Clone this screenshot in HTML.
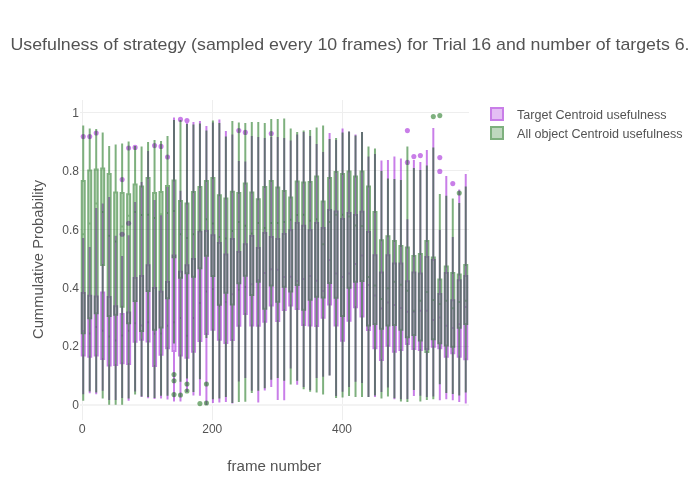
<!DOCTYPE html><html><head><meta charset="utf-8"><style>html,body{margin:0;padding:0;background:#fff;}body{width:700px;height:500px;position:relative;overflow:hidden;font-family:"Liberation Sans",sans-serif;}</style></head><body><svg width="700" height="500" viewBox="0 0 700 500" style="position:absolute;left:0;top:0"><rect width="700" height="500" fill="#fff"/><rect x="82" y="100" width="1" height="320" fill="#eeeeee"/><rect x="212" y="100" width="1" height="320" fill="#eeeeee"/><rect x="342" y="100" width="1" height="320" fill="#eeeeee"/><rect x="80" y="112" width="389" height="1" fill="#eeeeee"/><rect x="80" y="170" width="389" height="1" fill="#eeeeee"/><rect x="80" y="229" width="389" height="1" fill="#eeeeee"/><rect x="80" y="287" width="389" height="1" fill="#eeeeee"/><rect x="80" y="346" width="389" height="1" fill="#eeeeee"/><rect x="80" y="404" width="389" height="2" fill="#f3f3f3"/><clipPath id="c"><rect x="80" y="100" width="389" height="320"/></clipPath><g clip-path="url(#c)"><g opacity="0.5"><path d="M83.24,293.00V238.00M83.24,355.40V394.30M81.74,355.40H84.74V293.00H81.74Z M81.74,331.00H84.74" fill="rgba(148,0,211,0.5)" stroke="rgb(148,0,211)" stroke-width="2"/><path d="M89.72,295.70V247.00M89.72,356.70V393.30M88.22,356.70H91.22V295.70H88.22Z M88.22,333.60H91.22" fill="rgba(148,0,211,0.5)" stroke="rgb(148,0,211)" stroke-width="2"/><path d="M96.21,296.40V208.00M96.21,355.40V394.30M94.71,355.40H97.71V296.40H94.71Z M94.71,327.00H97.71" fill="rgba(148,0,211,0.5)" stroke="rgb(148,0,211)" stroke-width="2"/><path d="M102.69,292.40V203.60M102.69,359.00V390.70M101.19,359.00H104.19V292.40H101.19Z M101.19,330.70H104.19" fill="rgba(148,0,211,0.5)" stroke="rgb(148,0,211)" stroke-width="2"/><path d="M109.17,297.00V197.00M109.17,365.40V400.00M107.67,365.40H110.67V297.00H107.67Z M107.67,336.40H110.67" fill="rgba(148,0,211,0.5)" stroke="rgb(148,0,211)" stroke-width="2"/><path d="M115.66,306.30V235.70M115.66,365.10V400.00M114.16,365.10H117.16V306.30H114.16Z M114.16,340.40H117.16" fill="rgba(148,0,211,0.5)" stroke="rgb(148,0,211)" stroke-width="2"/><path d="M122.14,313.90V256.00M122.14,363.30V397.90M120.64,363.30H123.64V313.90H120.64Z M120.64,335.40H123.64" fill="rgba(148,0,211,0.5)" stroke="rgb(148,0,211)" stroke-width="2"/><path d="M128.62,312.40V235.30M128.62,364.00V400.70M127.12,364.00H130.12V312.40H127.12Z M127.12,330.70H130.12" fill="rgba(148,0,211,0.5)" stroke="rgb(148,0,211)" stroke-width="2"/><path d="M135.10,278.00V202.00M135.10,341.70V391.40M133.60,341.70H136.60V278.00H133.60Z M133.60,323.20H136.60" fill="rgba(148,0,211,0.5)" stroke="rgb(148,0,211)" stroke-width="2"/><path d="M141.59,276.00V182.00M141.59,339.70V397.00M140.09,339.70H143.09V276.00H140.09Z M140.09,325.50H143.09" fill="rgba(148,0,211,0.5)" stroke="rgb(148,0,211)" stroke-width="2"/><path d="M148.07,265.30V151.00M148.07,341.60V398.30M146.57,341.60H149.57V265.30H146.57Z M146.57,322.20H149.57" fill="rgba(148,0,211,0.5)" stroke="rgb(148,0,211)" stroke-width="2"/><path d="M154.55,288.00V200.00M154.55,366.10V399.00M153.05,366.10H156.05V288.00H153.05Z M153.05,333.70H156.05" fill="rgba(148,0,211,0.5)" stroke="rgb(148,0,211)" stroke-width="2"/><path d="M161.04,291.70V215.30M161.04,354.70V398.60M159.54,354.70H162.54V291.70H159.54Z M159.54,333.60H162.54" fill="rgba(148,0,211,0.5)" stroke="rgb(148,0,211)" stroke-width="2"/><path d="M167.52,282.00V187.00M167.52,348.30V399.60M166.02,348.30H169.02V282.00H166.02Z M166.02,325.70H169.02" fill="rgba(148,0,211,0.5)" stroke="rgb(148,0,211)" stroke-width="2"/><path d="M174.00,255.50V117.60M174.00,351.10V401.40M172.50,351.10H175.50V255.50H172.50Z M172.50,322.20H175.50" fill="rgba(148,0,211,0.5)" stroke="rgb(148,0,211)" stroke-width="2"/><path d="M180.48,271.70V190.70M180.48,355.40V401.40M178.98,355.40H181.98V271.70H178.98Z M178.98,318.00H181.98" fill="rgba(148,0,211,0.5)" stroke="rgb(148,0,211)" stroke-width="2"/><path d="M186.97,265.30V122.00M186.97,357.70V392.00M185.47,357.70H188.47V265.30H185.47Z M185.47,335.70H188.47" fill="rgba(148,0,211,0.5)" stroke="rgb(148,0,211)" stroke-width="2"/><path d="M193.45,259.00V122.00M193.45,351.70V395.40M191.95,351.70H194.95V259.00H191.95Z M191.95,318.00H194.95" fill="rgba(148,0,211,0.5)" stroke="rgb(148,0,211)" stroke-width="2"/><path d="M199.93,231.70V121.00M199.93,341.10V395.70M198.43,341.10H201.43V231.70H198.43Z M198.43,303.00H201.43" fill="rgba(148,0,211,0.5)" stroke="rgb(148,0,211)" stroke-width="2"/><path d="M206.42,231.00V126.00M206.42,334.00V405.00M204.92,334.00H207.92V231.00H204.92Z M204.92,291.40H207.92" fill="rgba(148,0,211,0.5)" stroke="rgb(148,0,211)" stroke-width="2"/><path d="M212.90,235.30V122.60M212.90,329.70V403.00M211.40,329.70H214.40V235.30H211.40Z M211.40,289.00H214.40" fill="rgba(148,0,211,0.5)" stroke="rgb(148,0,211)" stroke-width="2"/><path d="M219.38,243.00V119.60M219.38,339.70V402.60M217.88,339.70H220.88V243.00H217.88Z M217.88,306.00H220.88" fill="rgba(148,0,211,0.5)" stroke="rgb(148,0,211)" stroke-width="2"/><path d="M225.87,254.60V131.00M225.87,343.00V402.00M224.37,343.00H227.37V254.60H224.37Z M224.37,302.00H227.37" fill="rgba(148,0,211,0.5)" stroke="rgb(148,0,211)" stroke-width="2"/><path d="M232.35,239.00V134.40M232.35,340.10V403.50M230.85,340.10H233.85V239.00H230.85Z M230.85,294.30H233.85" fill="rgba(148,0,211,0.5)" stroke="rgb(148,0,211)" stroke-width="2"/><path d="M238.83,252.00V161.00M238.83,325.70V381.40M237.33,325.70H240.33V252.00H237.33Z M237.33,289.70H240.33" fill="rgba(148,0,211,0.5)" stroke="rgb(148,0,211)" stroke-width="2"/><path d="M245.31,244.30V161.60M245.31,314.00V378.00M243.81,314.00H246.81V244.30H243.81Z M243.81,287.00H246.81" fill="rgba(148,0,211,0.5)" stroke="rgb(148,0,211)" stroke-width="2"/><path d="M251.80,236.00V136.00M251.80,325.40V390.70M250.30,325.40H253.30V236.00H250.30Z M250.30,284.30H253.30" fill="rgba(148,0,211,0.5)" stroke="rgb(148,0,211)" stroke-width="2"/><path d="M258.28,248.00V137.00M258.28,325.70V402.60M256.78,325.70H259.78V248.00H256.78Z M256.78,280.00H259.78" fill="rgba(148,0,211,0.5)" stroke="rgb(148,0,211)" stroke-width="2"/><path d="M264.76,233.00V138.00M264.76,321.70V390.40M263.26,321.70H266.26V233.00H263.26Z M263.26,273.00H266.26" fill="rgba(148,0,211,0.5)" stroke="rgb(148,0,211)" stroke-width="2"/><path d="M271.25,237.00V137.00M271.25,305.40V387.00M269.75,305.40H272.75V237.00H269.75Z M269.75,269.30H272.75" fill="rgba(148,0,211,0.5)" stroke="rgb(148,0,211)" stroke-width="2"/><path d="M277.73,239.00V137.00M277.73,321.10V400.00M276.23,321.10H279.23V239.00H276.23Z M276.23,269.70H279.23" fill="rgba(148,0,211,0.5)" stroke="rgb(148,0,211)" stroke-width="2"/><path d="M284.21,233.90V138.00M284.21,310.10V400.30M282.71,310.10H285.71V233.90H282.71Z M282.71,277.00H285.71" fill="rgba(148,0,211,0.5)" stroke="rgb(148,0,211)" stroke-width="2"/><path d="M290.70,230.30V140.60M290.70,305.40V368.60M289.20,305.40H292.20V230.30H289.20Z M289.20,276.70H292.20" fill="rgba(148,0,211,0.5)" stroke="rgb(148,0,211)" stroke-width="2"/><path d="M297.18,222.90V134.40M297.18,309.00V384.70M295.68,309.00H298.68V222.90H295.68Z M295.68,281.00H298.68" fill="rgba(148,0,211,0.5)" stroke="rgb(148,0,211)" stroke-width="2"/><path d="M303.66,225.70V132.00M303.66,325.00V386.90M302.16,325.00H305.16V225.70H302.16Z M302.16,279.00H305.16" fill="rgba(148,0,211,0.5)" stroke="rgb(148,0,211)" stroke-width="2"/><path d="M310.14,230.30V136.00M310.14,325.40V390.00M308.64,325.40H311.64V230.30H308.64Z M308.64,276.00H311.64" fill="rgba(148,0,211,0.5)" stroke="rgb(148,0,211)" stroke-width="2"/><path d="M316.63,223.00V144.00M316.63,326.10V377.90M315.13,326.10H318.13V223.00H315.13Z M315.13,280.70H318.13" fill="rgba(148,0,211,0.5)" stroke="rgb(148,0,211)" stroke-width="2"/><path d="M323.11,228.00V152.00M323.11,317.70V376.70M321.61,317.70H324.61V228.00H321.61Z M321.61,291.00H324.61" fill="rgba(148,0,211,0.5)" stroke="rgb(148,0,211)" stroke-width="2"/><path d="M329.59,210.00V133.00M329.59,304.40V375.50M328.09,304.40H331.09V210.00H328.09Z M328.09,260.00H331.09" fill="rgba(148,0,211,0.5)" stroke="rgb(148,0,211)" stroke-width="2"/><path d="M336.08,211.40V140.00M336.08,325.40V396.00M334.58,325.40H337.58V211.40H334.58Z M334.58,273.60H337.58" fill="rgba(148,0,211,0.5)" stroke="rgb(148,0,211)" stroke-width="2"/><path d="M342.56,219.00V128.60M342.56,340.70V391.70M341.06,340.70H344.06V219.00H341.06Z M341.06,277.00H344.06" fill="rgba(148,0,211,0.5)" stroke="rgb(148,0,211)" stroke-width="2"/><path d="M349.04,213.00V131.40M349.04,320.70V387.00M347.54,320.70H350.54V213.00H347.54Z M347.54,273.60H350.54" fill="rgba(148,0,211,0.5)" stroke="rgb(148,0,211)" stroke-width="2"/><path d="M355.53,214.90V134.60M355.53,307.30V381.70M354.03,307.30H357.03V214.90H354.03Z M354.03,263.90H357.03" fill="rgba(148,0,211,0.5)" stroke="rgb(148,0,211)" stroke-width="2"/><path d="M362.01,211.70V132.00M362.01,316.40V382.90M360.51,316.40H363.51V211.70H360.51Z M360.51,255.40H363.51" fill="rgba(148,0,211,0.5)" stroke="rgb(148,0,211)" stroke-width="2"/><path d="M368.49,232.00V156.60M368.49,330.10V396.90M366.99,330.10H369.99V232.00H366.99Z M366.99,285.00H369.99" fill="rgba(148,0,211,0.5)" stroke="rgb(148,0,211)" stroke-width="2"/><path d="M374.97,255.30V154.00M374.97,348.30V397.00M373.47,348.30H376.47V255.30H373.47Z M373.47,295.40H376.47" fill="rgba(148,0,211,0.5)" stroke="rgb(148,0,211)" stroke-width="2"/><path d="M381.46,272.40V160.60M381.46,360.10V392.00M379.96,360.10H382.96V272.40H379.96Z M379.96,308.60H382.96" fill="rgba(148,0,211,0.5)" stroke="rgb(148,0,211)" stroke-width="2"/><path d="M387.94,255.30V160.00M387.94,345.70V387.40M386.44,345.70H389.44V255.30H386.44Z M386.44,302.60H389.44" fill="rgba(148,0,211,0.5)" stroke="rgb(148,0,211)" stroke-width="2"/><path d="M394.42,263.60V156.60M394.42,351.70V399.30M392.92,351.70H395.92V263.60H392.92Z M392.92,305.00H395.92" fill="rgba(148,0,211,0.5)" stroke="rgb(148,0,211)" stroke-width="2"/><path d="M400.91,263.60V158.60M400.91,350.10V399.30M399.41,350.10H402.41V263.60H399.41Z M399.41,307.90H402.41" fill="rgba(148,0,211,0.5)" stroke="rgb(148,0,211)" stroke-width="2"/><path d="M407.39,281.30V219.30M407.39,344.00V399.00M405.89,344.00H408.89V281.30H405.89Z M405.89,311.70H408.89" fill="rgba(148,0,211,0.5)" stroke="rgb(148,0,211)" stroke-width="2"/><path d="M413.87,272.40V160.00M413.87,349.00V396.00M412.37,349.00H415.37V272.40H412.37Z M412.37,312.00H415.37" fill="rgba(148,0,211,0.5)" stroke="rgb(148,0,211)" stroke-width="2"/><path d="M420.36,273.60V162.00M420.36,350.10V395.70M418.86,350.10H421.86V273.60H418.86Z M418.86,310.70H421.86" fill="rgba(148,0,211,0.5)" stroke="rgb(148,0,211)" stroke-width="2"/><path d="M426.84,257.00V150.00M426.84,349.00V397.00M425.34,349.00H428.34V257.00H425.34Z M425.34,310.70H428.34" fill="rgba(148,0,211,0.5)" stroke="rgb(148,0,211)" stroke-width="2"/><path d="M433.32,259.90V128.00M433.32,346.70V396.40M431.82,346.70H434.82V259.90H431.82Z M431.82,320.00H434.82" fill="rgba(148,0,211,0.5)" stroke="rgb(148,0,211)" stroke-width="2"/><path d="M439.81,294.00V230.00M439.81,348.30V400.30M438.31,348.30H441.31V294.00H438.31Z M438.31,317.50H441.31" fill="rgba(148,0,211,0.5)" stroke="rgb(148,0,211)" stroke-width="2"/><path d="M446.29,273.00V176.00M446.29,356.70V399.30M444.79,356.70H447.79V273.00H444.79Z M444.79,325.70H447.79" fill="rgba(148,0,211,0.5)" stroke="rgb(148,0,211)" stroke-width="2"/><path d="M452.77,300.30V237.00M452.77,353.30V400.30M451.27,353.30H454.27V300.30H451.27Z M451.27,328.00H454.27" fill="rgba(148,0,211,0.5)" stroke="rgb(148,0,211)" stroke-width="2"/><path d="M459.25,280.30V189.60M459.25,356.70V402.00M457.75,356.70H460.75V280.30H457.75Z M457.75,324.30H460.75" fill="rgba(148,0,211,0.5)" stroke="rgb(148,0,211)" stroke-width="2"/><path d="M465.74,276.00V174.00M465.74,359.30V403.60M464.24,359.30H467.24V276.00H464.24Z M464.24,306.90H467.24" fill="rgba(148,0,211,0.5)" stroke="rgb(148,0,211)" stroke-width="2"/><circle cx="83.24" cy="136.60" r="2.55" fill="rgb(148,0,211)"/><circle cx="89.72" cy="136.60" r="2.55" fill="rgb(148,0,211)"/><circle cx="96.21" cy="133.00" r="2.55" fill="rgb(148,0,211)"/><circle cx="122.14" cy="179.60" r="2.55" fill="rgb(148,0,211)"/><circle cx="122.14" cy="234.30" r="2.55" fill="rgb(148,0,211)"/><circle cx="128.62" cy="148.00" r="2.55" fill="rgb(148,0,211)"/><circle cx="128.62" cy="223.30" r="2.55" fill="rgb(148,0,211)"/><circle cx="135.10" cy="147.40" r="2.55" fill="rgb(148,0,211)"/><circle cx="154.55" cy="145.60" r="2.55" fill="rgb(148,0,211)"/><circle cx="161.04" cy="146.40" r="2.55" fill="rgb(148,0,211)"/><circle cx="167.52" cy="157.00" r="2.55" fill="rgb(148,0,211)"/><circle cx="180.48" cy="119.40" r="2.55" fill="rgb(148,0,211)"/><circle cx="186.97" cy="120.60" r="2.55" fill="rgb(148,0,211)"/><circle cx="238.83" cy="130.60" r="2.55" fill="rgb(148,0,211)"/><circle cx="245.31" cy="132.40" r="2.55" fill="rgb(148,0,211)"/><circle cx="271.25" cy="133.60" r="2.55" fill="rgb(148,0,211)"/><circle cx="407.39" cy="130.60" r="2.55" fill="rgb(148,0,211)"/><circle cx="407.39" cy="162.40" r="2.55" fill="rgb(148,0,211)"/><circle cx="413.87" cy="156.60" r="2.55" fill="rgb(148,0,211)"/><circle cx="420.36" cy="155.60" r="2.55" fill="rgb(148,0,211)"/><circle cx="439.81" cy="157.60" r="2.55" fill="rgb(148,0,211)"/><circle cx="439.81" cy="171.40" r="2.55" fill="rgb(148,0,211)"/><circle cx="452.77" cy="183.60" r="2.55" fill="rgb(148,0,211)"/></g><g opacity="0.5"><path d="M83.24,181.00V125.60M83.24,333.30V400.70M81.74,333.30H84.74V181.00H81.74Z M81.74,234.30H84.74" fill="rgba(0,100,0,0.5)" stroke="rgb(0,100,0)" stroke-width="2"/><path d="M89.72,170.40V128.40M89.72,318.30V391.40M88.22,318.30H91.22V170.40H88.22Z M88.22,223.60H91.22" fill="rgba(0,100,0,0.5)" stroke="rgb(0,100,0)" stroke-width="2"/><path d="M96.21,169.40V129.00M96.21,313.30V392.60M94.71,313.30H97.71V169.40H94.71Z M94.71,203.60H97.71" fill="rgba(0,100,0,0.5)" stroke="rgb(0,100,0)" stroke-width="2"/><path d="M102.69,168.40V132.60M102.69,265.00V398.60M101.19,265.00H104.19V168.40H101.19Z M101.19,212.00H104.19" fill="rgba(0,100,0,0.5)" stroke="rgb(0,100,0)" stroke-width="2"/><path d="M109.17,174.00V146.00M109.17,316.10V404.70M107.67,316.10H110.67V174.00H107.67Z M107.67,235.70H110.67" fill="rgba(0,100,0,0.5)" stroke="rgb(0,100,0)" stroke-width="2"/><path d="M115.66,192.50V144.40M115.66,314.70V404.70M114.16,314.70H117.16V192.50H114.16Z M114.16,241.40H117.16" fill="rgba(0,100,0,0.5)" stroke="rgb(0,100,0)" stroke-width="2"/><path d="M122.14,193.00V143.40M122.14,306.70V404.70M120.64,306.70H123.64V193.00H120.64Z M120.64,226.40H123.64" fill="rgba(0,100,0,0.5)" stroke="rgb(0,100,0)" stroke-width="2"/><path d="M128.62,194.20V141.60M128.62,323.30V398.60M127.12,323.30H130.12V194.20H127.12Z M127.12,215.70H130.12" fill="rgba(0,100,0,0.5)" stroke="rgb(0,100,0)" stroke-width="2"/><path d="M135.10,184.40V146.00M135.10,301.10V394.60M133.60,301.10H136.60V184.40H133.60Z M133.60,212.00H136.60" fill="rgba(0,100,0,0.5)" stroke="rgb(0,100,0)" stroke-width="2"/><path d="M141.59,186.40V146.60M141.59,331.10V396.40M140.09,331.10H143.09V186.40H140.09Z M140.09,215.00H143.09" fill="rgba(0,100,0,0.5)" stroke="rgb(0,100,0)" stroke-width="2"/><path d="M148.07,178.00V142.00M148.07,291.10V397.00M146.57,291.10H149.57V178.00H146.57Z M146.57,214.70H149.57" fill="rgba(0,100,0,0.5)" stroke="rgb(0,100,0)" stroke-width="2"/><path d="M154.55,193.00V140.00M154.55,329.70V397.90M153.05,329.70H156.05V193.00H153.05Z M153.05,218.00H156.05" fill="rgba(0,100,0,0.5)" stroke="rgb(0,100,0)" stroke-width="2"/><path d="M161.04,192.00V141.00M161.04,327.60V395.70M159.54,327.60H162.54V192.00H159.54Z M159.54,214.30H162.54" fill="rgba(0,100,0,0.5)" stroke="rgb(0,100,0)" stroke-width="2"/><path d="M167.52,186.00V136.00M167.52,298.30V395.70M166.02,298.30H169.02V186.00H166.02Z M166.02,212.90H169.02" fill="rgba(0,100,0,0.5)" stroke="rgb(0,100,0)" stroke-width="2"/><path d="M174.00,180.60V120.00M174.00,257.20V343.60M172.50,257.20H175.50V180.60H172.50Z M172.50,211.00H175.50" fill="rgba(0,100,0,0.5)" stroke="rgb(0,100,0)" stroke-width="2"/><path d="M180.48,201.00V120.00M180.48,277.70V381.70M178.98,277.70H181.98V201.00H178.98Z M178.98,234.30H181.98" fill="rgba(0,100,0,0.5)" stroke="rgb(0,100,0)" stroke-width="2"/><path d="M186.97,203.40V124.00M186.97,273.30V378.60M185.47,273.30H188.47V203.40H185.47Z M185.47,238.00H188.47" fill="rgba(0,100,0,0.5)" stroke="rgb(0,100,0)" stroke-width="2"/><path d="M193.45,192.00V124.40M193.45,276.70V392.00M191.95,276.70H194.95V192.00H191.95Z M191.95,234.30H194.95" fill="rgba(0,100,0,0.5)" stroke="rgb(0,100,0)" stroke-width="2"/><path d="M199.93,187.00V123.60M199.93,268.30V379.30M198.43,268.30H201.43V187.00H198.43Z M198.43,230.50H201.43" fill="rgba(0,100,0,0.5)" stroke="rgb(0,100,0)" stroke-width="2"/><path d="M206.42,181.00V130.40M206.42,255.70V338.00M204.92,255.70H207.92V181.00H204.92Z M204.92,219.30H207.92" fill="rgba(0,100,0,0.5)" stroke="rgb(0,100,0)" stroke-width="2"/><path d="M212.90,178.00V120.40M212.90,276.10V399.30M211.40,276.10H214.40V178.00H211.40Z M211.40,223.60H214.40" fill="rgba(0,100,0,0.5)" stroke="rgb(0,100,0)" stroke-width="2"/><path d="M219.38,195.30V123.00M219.38,304.70V398.60M217.88,304.70H220.88V195.30H217.88Z M217.88,237.00H220.88" fill="rgba(0,100,0,0.5)" stroke="rgb(0,100,0)" stroke-width="2"/><path d="M225.87,198.60V136.60M225.87,292.70V397.00M224.37,292.70H227.37V198.60H224.37Z M224.37,238.60H227.37" fill="rgba(0,100,0,0.5)" stroke="rgb(0,100,0)" stroke-width="2"/><path d="M232.35,191.70V121.00M232.35,304.40V403.00M230.85,304.40H233.85V191.70H230.85Z M230.85,231.00H233.85" fill="rgba(0,100,0,0.5)" stroke="rgb(0,100,0)" stroke-width="2"/><path d="M238.83,193.00V122.40M238.83,283.30V402.00M237.33,283.30H240.33V193.00H237.33Z M237.33,222.00H240.33" fill="rgba(0,100,0,0.5)" stroke="rgb(0,100,0)" stroke-width="2"/><path d="M245.31,183.40V123.00M245.31,275.70V401.70M243.81,275.70H246.81V183.40H243.81Z M243.81,225.70H246.81" fill="rgba(0,100,0,0.5)" stroke="rgb(0,100,0)" stroke-width="2"/><path d="M251.80,192.40V122.00M251.80,295.10V392.90M250.30,295.10H253.30V192.40H250.30Z M250.30,233.60H253.30" fill="rgba(0,100,0,0.5)" stroke="rgb(0,100,0)" stroke-width="2"/><path d="M258.28,199.30V122.00M258.28,281.70V390.70M256.78,281.70H259.78V199.30H256.78Z M256.78,223.00H259.78" fill="rgba(0,100,0,0.5)" stroke="rgb(0,100,0)" stroke-width="2"/><path d="M264.76,187.00V123.00M264.76,308.70V388.30M263.26,308.70H266.26V187.00H263.26Z M263.26,228.00H266.26" fill="rgba(0,100,0,0.5)" stroke="rgb(0,100,0)" stroke-width="2"/><path d="M271.25,181.00V119.00M271.25,285.40V379.70M269.75,285.40H272.75V181.00H269.75Z M269.75,223.00H272.75" fill="rgba(0,100,0,0.5)" stroke="rgb(0,100,0)" stroke-width="2"/><path d="M277.73,187.40V119.00M277.73,301.70V377.90M276.23,301.70H279.23V187.40H276.23Z M276.23,222.90H279.23" fill="rgba(0,100,0,0.5)" stroke="rgb(0,100,0)" stroke-width="2"/><path d="M284.21,191.00V118.60M284.21,286.70V380.70M282.71,286.70H285.71V191.00H282.71Z M282.71,221.90H285.71" fill="rgba(0,100,0,0.5)" stroke="rgb(0,100,0)" stroke-width="2"/><path d="M290.70,197.40V128.40M290.70,291.60V384.60M289.20,291.60H292.20V197.40H289.20Z M289.20,219.70H292.20" fill="rgba(0,100,0,0.5)" stroke="rgb(0,100,0)" stroke-width="2"/><path d="M297.18,181.60V132.00M297.18,285.00V380.70M295.68,285.00H298.68V181.60H295.68Z M295.68,215.00H298.68" fill="rgba(0,100,0,0.5)" stroke="rgb(0,100,0)" stroke-width="2"/><path d="M303.66,182.60V130.40M303.66,309.70V389.30M302.16,309.70H305.16V182.60H302.16Z M302.16,214.70H305.16" fill="rgba(0,100,0,0.5)" stroke="rgb(0,100,0)" stroke-width="2"/><path d="M310.14,182.00V130.00M310.14,299.70V391.70M308.64,299.70H311.64V182.00H308.64Z M308.64,220.70H311.64" fill="rgba(0,100,0,0.5)" stroke="rgb(0,100,0)" stroke-width="2"/><path d="M316.63,176.40V127.40M316.63,296.70V392.60M315.13,296.70H318.13V176.40H315.13Z M315.13,219.30H318.13" fill="rgba(0,100,0,0.5)" stroke="rgb(0,100,0)" stroke-width="2"/><path d="M323.11,201.40V125.60M323.11,297.60V394.60M321.61,297.60H324.61V201.40H321.61Z M321.61,244.30H324.61" fill="rgba(0,100,0,0.5)" stroke="rgb(0,100,0)" stroke-width="2"/><path d="M329.59,178.00V139.00M329.59,283.00V375.50M328.09,283.00H331.09V178.00H328.09Z M328.09,221.90H331.09" fill="rgba(0,100,0,0.5)" stroke="rgb(0,100,0)" stroke-width="2"/><path d="M336.08,172.00V138.00M336.08,297.70V397.90M334.58,297.70H337.58V172.00H334.58Z M334.58,214.70H337.58" fill="rgba(0,100,0,0.5)" stroke="rgb(0,100,0)" stroke-width="2"/><path d="M342.56,174.00V132.40M342.56,316.10V397.40M341.06,316.10H344.06V174.00H341.06Z M341.06,214.70H344.06" fill="rgba(0,100,0,0.5)" stroke="rgb(0,100,0)" stroke-width="2"/><path d="M349.04,171.40V131.40M349.04,287.70V396.00M347.54,287.70H350.54V171.40H347.54Z M347.54,216.40H350.54" fill="rgba(0,100,0,0.5)" stroke="rgb(0,100,0)" stroke-width="2"/><path d="M355.53,176.60V135.60M355.53,281.70V397.00M354.03,281.70H357.03V176.60H354.03Z M354.03,225.40H357.03" fill="rgba(0,100,0,0.5)" stroke="rgb(0,100,0)" stroke-width="2"/><path d="M362.01,171.60V132.00M362.01,281.10V396.90M360.51,281.10H363.51V171.60H360.51Z M360.51,226.00H363.51" fill="rgba(0,100,0,0.5)" stroke="rgb(0,100,0)" stroke-width="2"/><path d="M368.49,186.60V146.60M368.49,325.40V396.90M366.99,325.40H369.99V186.60H366.99Z M366.99,277.00H369.99" fill="rgba(0,100,0,0.5)" stroke="rgb(0,100,0)" stroke-width="2"/><path d="M374.97,212.00V148.60M374.97,324.00V395.40M373.47,324.00H376.47V212.00H373.47Z M373.47,285.40H376.47" fill="rgba(0,100,0,0.5)" stroke="rgb(0,100,0)" stroke-width="2"/><path d="M381.46,240.30V171.00M381.46,328.70V398.60M379.96,328.70H382.96V240.30H379.96Z M379.96,298.90H382.96" fill="rgba(0,100,0,0.5)" stroke="rgb(0,100,0)" stroke-width="2"/><path d="M387.94,236.30V178.60M387.94,325.40V396.40M386.44,325.40H389.44V236.30H386.44Z M386.44,288.30H389.44" fill="rgba(0,100,0,0.5)" stroke="rgb(0,100,0)" stroke-width="2"/><path d="M394.42,241.00V179.00M394.42,325.00V398.30M392.92,325.00H395.92V241.00H392.92Z M392.92,281.70H395.92" fill="rgba(0,100,0,0.5)" stroke="rgb(0,100,0)" stroke-width="2"/><path d="M400.91,246.00V180.00M400.91,329.70V401.40M399.41,329.70H402.41V246.00H399.41Z M399.41,284.70H402.41" fill="rgba(0,100,0,0.5)" stroke="rgb(0,100,0)" stroke-width="2"/><path d="M407.39,247.40V146.40M407.39,337.30V402.00M405.89,337.30H408.89V247.40H405.89Z M405.89,290.70H408.89" fill="rgba(0,100,0,0.5)" stroke="rgb(0,100,0)" stroke-width="2"/><path d="M413.87,256.00V168.00M413.87,335.00V390.00M412.37,335.00H415.37V256.00H412.37Z M412.37,310.70H415.37" fill="rgba(0,100,0,0.5)" stroke="rgb(0,100,0)" stroke-width="2"/><path d="M420.36,253.90V170.00M420.36,340.40V401.40M418.86,340.40H421.86V253.90H418.86Z M418.86,300.70H421.86" fill="rgba(0,100,0,0.5)" stroke="rgb(0,100,0)" stroke-width="2"/><path d="M426.84,241.00V165.60M426.84,352.10V400.00M425.34,352.10H428.34V241.00H425.34Z M425.34,292.00H428.34" fill="rgba(0,100,0,0.5)" stroke="rgb(0,100,0)" stroke-width="2"/><path d="M433.32,257.40V147.60M433.32,339.30V399.30M431.82,339.30H434.82V257.40H431.82Z M431.82,300.00H434.82" fill="rgba(0,100,0,0.5)" stroke="rgb(0,100,0)" stroke-width="2"/><path d="M439.81,279.60V194.00M439.81,343.30V384.30M438.31,343.30H441.31V279.60H438.31Z M438.31,304.00H441.31" fill="rgba(0,100,0,0.5)" stroke="rgb(0,100,0)" stroke-width="2"/><path d="M446.29,266.40V195.70M446.29,345.40V392.90M444.79,345.40H447.79V266.40H444.79Z M444.79,300.70H447.79" fill="rgba(0,100,0,0.5)" stroke="rgb(0,100,0)" stroke-width="2"/><path d="M452.77,273.00V198.60M452.77,346.70V394.00M451.27,346.70H454.27V273.00H451.27Z M451.27,308.30H454.27" fill="rgba(0,100,0,0.5)" stroke="rgb(0,100,0)" stroke-width="2"/><path d="M459.25,274.60V202.90M459.25,327.70V395.40M457.75,327.70H460.75V274.60H457.75Z M457.75,302.00H460.75" fill="rgba(0,100,0,0.5)" stroke="rgb(0,100,0)" stroke-width="2"/><path d="M465.74,264.90V186.40M465.74,324.00V392.60M464.24,324.00H467.24V264.90H464.24Z M464.24,300.70H467.24" fill="rgba(0,100,0,0.5)" stroke="rgb(0,100,0)" stroke-width="2"/><circle cx="174.00" cy="374.60" r="2.55" fill="rgb(0,100,0)"/><circle cx="174.00" cy="380.70" r="2.55" fill="rgb(0,100,0)"/><circle cx="174.00" cy="394.60" r="2.55" fill="rgb(0,100,0)"/><circle cx="180.48" cy="395.00" r="2.55" fill="rgb(0,100,0)"/><circle cx="186.97" cy="384.00" r="2.55" fill="rgb(0,100,0)"/><circle cx="186.97" cy="391.00" r="2.55" fill="rgb(0,100,0)"/><circle cx="199.93" cy="403.60" r="2.55" fill="rgb(0,100,0)"/><circle cx="206.42" cy="384.00" r="2.55" fill="rgb(0,100,0)"/><circle cx="206.42" cy="403.00" r="2.55" fill="rgb(0,100,0)"/><circle cx="433.32" cy="116.60" r="2.55" fill="rgb(0,100,0)"/><circle cx="439.81" cy="115.60" r="2.55" fill="rgb(0,100,0)"/><circle cx="459.25" cy="193.00" r="2.55" fill="rgb(0,100,0)"/></g></g><g opacity="0.5"><rect x="491" y="108" width="12" height="12" fill="rgba(148,0,211,0.5)" stroke="rgb(148,0,211)" stroke-width="2"/></g><g opacity="0.5"><rect x="491" y="127" width="12" height="12" fill="rgba(0,100,0,0.5)" stroke="rgb(0,100,0)" stroke-width="2"/></g><g opacity="0.92"><text x="517" y="118.5" font-family="Liberation Sans, sans-serif" font-size="12" fill="#444" textLength="149.6" lengthAdjust="spacingAndGlyphs">Target Centroid usefulness</text><text x="517" y="137.5" font-family="Liberation Sans, sans-serif" font-size="12" fill="#444" textLength="165.6" lengthAdjust="spacingAndGlyphs">All object Centroid usefulness</text><text x="82.20" y="433.3" font-family="Liberation Sans, sans-serif" font-size="12" fill="#444" text-anchor="middle" textLength="6.9" lengthAdjust="spacingAndGlyphs">0</text><text x="212.25" y="433.3" font-family="Liberation Sans, sans-serif" font-size="12" fill="#444" text-anchor="middle" textLength="20" lengthAdjust="spacingAndGlyphs">200</text><text x="342.05" y="433.3" font-family="Liberation Sans, sans-serif" font-size="12" fill="#444" text-anchor="middle" textLength="20" lengthAdjust="spacingAndGlyphs">400</text><text x="79" y="408.70" font-family="Liberation Sans, sans-serif" font-size="12" fill="#444" text-anchor="end">0</text><text x="79" y="350.30" font-family="Liberation Sans, sans-serif" font-size="12" fill="#444" text-anchor="end">0.2</text><text x="79" y="291.90" font-family="Liberation Sans, sans-serif" font-size="12" fill="#444" text-anchor="end">0.4</text><text x="79" y="233.50" font-family="Liberation Sans, sans-serif" font-size="12" fill="#444" text-anchor="end">0.6</text><text x="79" y="175.10" font-family="Liberation Sans, sans-serif" font-size="12" fill="#444" text-anchor="end">0.8</text><text x="79" y="116.70" font-family="Liberation Sans, sans-serif" font-size="12" fill="#444" text-anchor="end">1</text><text x="274.3" y="471.4" font-family="Liberation Sans, sans-serif" font-size="14" fill="#444" text-anchor="middle" textLength="94" lengthAdjust="spacingAndGlyphs">frame number</text><text transform="translate(43,259.5) rotate(-90)" font-family="Liberation Sans, sans-serif" font-size="14" fill="#444" text-anchor="middle" textLength="159" lengthAdjust="spacingAndGlyphs">Cummulative Probability</text><text x="350" y="50" font-family="Liberation Sans, sans-serif" font-size="17" fill="#444" text-anchor="middle" textLength="679" lengthAdjust="spacingAndGlyphs">Usefulness of strategy (sampled every 10 frames) for Trial 16 and number of targets 6.</text></g></svg></body></html>
